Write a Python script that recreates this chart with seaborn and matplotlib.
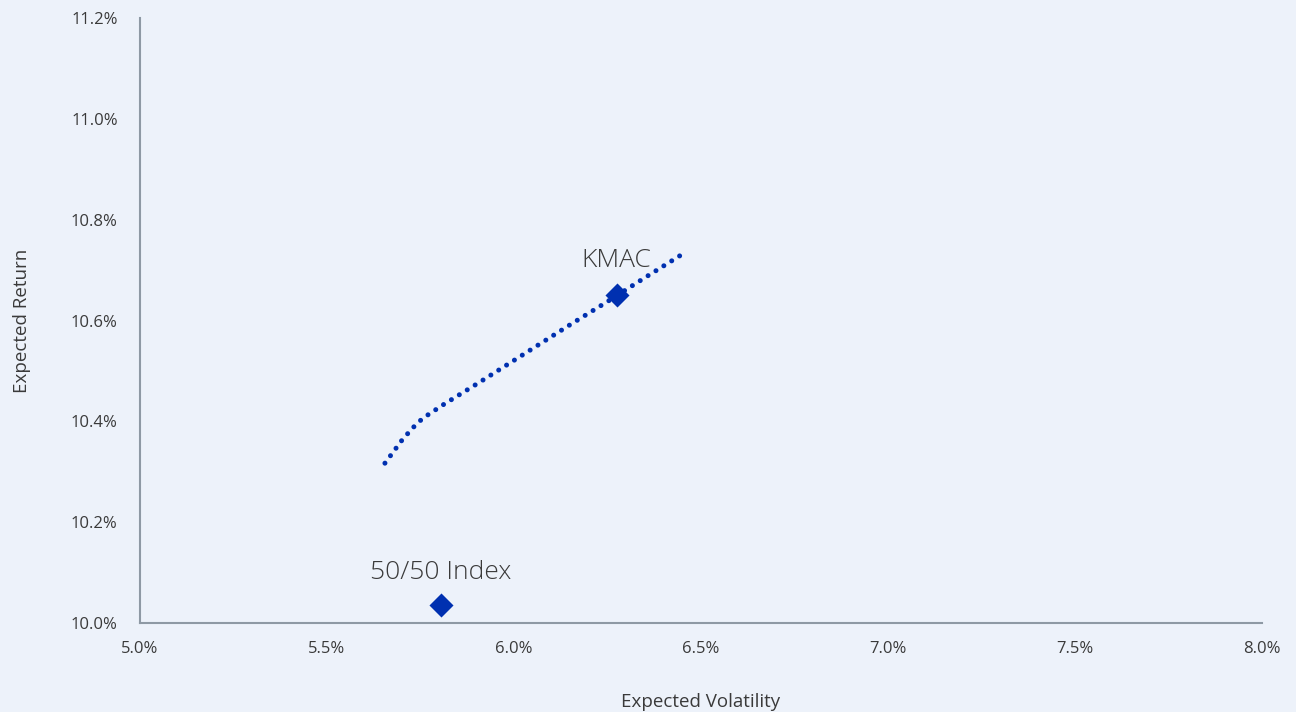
import matplotlib
matplotlib.use("Agg")
import matplotlib.pyplot as plt
import seaborn as sns
import pandas as pd
from matplotlib.ticker import FuncFormatter

# efficient frontier (expected volatility %, expected return %)
frontier_vol = [5.655, 5.678, 5.700, 5.728, 5.756, 5.811, 5.909, 6.030, 6.153, 6.251, 6.348, 6.447]
frontier_ret = [10.317, 10.340, 10.362, 10.386, 10.406, 10.433, 10.478, 10.535, 10.593, 10.638, 10.684, 10.730]

# portfolios
port_names = ["50/50 Index", "KMAC"]
port_vol = [5.805, 6.275]
port_ret = [10.036, 10.651]

bg = "#EDF2FA"
blue = "#0030B0"
grey = "#8E99A4"
txt = "#3A3A3A"

sns.set_theme(style="white")
plt.rcParams["font.family"] = ["Open Sans", "DejaVu Sans"]

fig = plt.figure(figsize=(12.96, 7.12), dpi=100, facecolor=bg)
ax = fig.add_axes([0.108, 0.125, 0.8657, 0.8497])
ax.set_facecolor(bg)

front = pd.DataFrame({"vol": frontier_vol, "ret": frontier_ret})
sns.lineplot(data=front, x="vol", y="ret", ax=ax, color=blue, lw=3.6,
             sort=False, estimator=None)
line = ax.lines[-1]
line.set_linestyle((0, (0.01, 1.85)))
line.set_dash_capstyle("round")

ports = pd.DataFrame({"name": port_names, "vol": port_vol, "ret": port_ret})
sns.scatterplot(data=ports, x="vol", y="ret", ax=ax, marker="D", s=150,
                color=blue, edgecolor=blue, linewidth=0, zorder=5)

ax.annotate("50/50 Index", (port_vol[0], port_ret[0]), xytext=(0, 14),
            textcoords="offset points", ha="center", va="bottom",
            fontsize=19, color=txt, fontweight="light")
ax.annotate("KMAC", (port_vol[1], port_ret[1]), xytext=(0, 16),
            textcoords="offset points", ha="center", va="bottom",
            fontsize=19, color=txt, fontweight="light")

ax.set_xlim(5.0, 8.0)
ax.set_ylim(10.0, 11.2)
ax.set_xticks([5.0, 5.5, 6.0, 6.5, 7.0, 7.5, 8.0])
ax.set_yticks([10.0, 10.2, 10.4, 10.6, 10.8, 11.0, 11.2])
ax.xaxis.set_major_formatter(FuncFormatter(lambda v, p: f"{v:.1f}%"))
ax.yaxis.set_major_formatter(FuncFormatter(lambda v, p: f"{v:.1f}%"))
ax.tick_params(axis="both", length=0, labelsize=12, colors=txt)
ax.tick_params(axis="x", pad=13)
ax.tick_params(axis="y", pad=16)

ax.set_xlabel("Expected Volatility", fontsize=13.5, color=txt, labelpad=26)
ax.set_ylabel("Expected Return", fontsize=13.5, color=txt, labelpad=29)

for s in ["top", "right"]:
    ax.spines[s].set_visible(False)
for s in ["left", "bottom"]:
    ax.spines[s].set_color(grey)
    ax.spines[s].set_linewidth(1.5)

fig.savefig("out.png", dpi=100, facecolor=bg)
